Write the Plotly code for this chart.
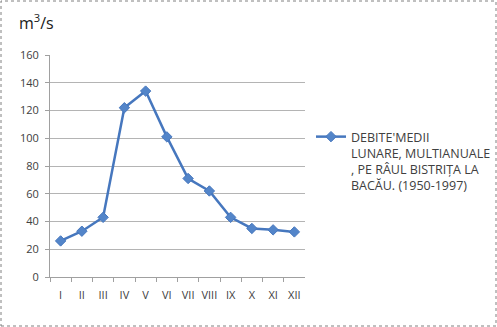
import plotly.graph_objects as go

months = ["I", "II", "III", "IV", "V", "VI", "VII", "VIII", "IX", "X", "XI", "XII"]
debite = [26, 33, 43, 122, 134, 101, 71, 62, 43, 35, 34, 32.5]
y_ticks = [0, 20, 40, 60, 80, 100, 120, 140, 160]
series_name = "DEBITE'MEDII<br>LUNARE, MULTIANUALE<br>, PE RÂUL BISTRIȚA LA<br>BACĂU. (1950-1997)"

font_family = "Open Sans, Noto Sans, sans-serif"
line_color = "#4677BE"

W, H = 497, 327
ML, MR, MT, MB = 50, 0, 55, 50
PW = W - ML - MR   # paper width
PH = H - MT - MB   # paper height
plot_right = 305

fig = go.Figure()
fig.add_trace(go.Scatter(
    x=months, y=debite, mode="lines+markers", name=series_name,
    line=dict(color=line_color, width=2.5),
    marker=dict(symbol="diamond", size=8, color="#5385C9",
                line=dict(color=line_color, width=1)),
))

fig.update_layout(
    width=W, height=H,
    margin=dict(l=ML, r=MR, t=MT, b=MB),
    paper_bgcolor="white", plot_bgcolor="white",
    font=dict(family=font_family, size=11, color="#404040"),
    showlegend=True,
    legend=dict(x=(311 - ML) / PW, y=(H - MB - 122) / PH,
                xanchor="left", yanchor="top",
                valign="top", itemwidth=30, borderwidth=0,
                font=dict(size=12.5, color="#404040"),
                bgcolor="rgba(0,0,0,0)", tracegroupgap=0),
    xaxis=dict(domain=[0, (plot_right - ML) / PW],
               type="category", showgrid=False, showline=True,
               linecolor="#a0a0a0", linewidth=1,
               ticks="outside", ticklen=4, tickcolor="#a0a0a0",
               tickson="boundaries", range=[-0.5, 11.5], tickangle=0,
               ticklabelstandoff=8,
               tickfont=dict(size=11, color="#404040"), fixedrange=True),
    yaxis=dict(range=[0, 160], tickvals=y_ticks, showgrid=True,
               gridcolor="#b4b4b4", gridwidth=1, showline=True,
               linecolor="#a0a0a0", linewidth=1, ticks="outside",
               ticklen=4, tickcolor="#a0a0a0", zeroline=False,
               ticklabelstandoff=4,
               tickfont=dict(size=11, color="#404040"), fixedrange=True),
    annotations=[dict(text="m<sup>3</sup>/s", xref="paper", yref="paper",
                      x=(17 - ML) / PW, y=1.15, xanchor="left", yanchor="middle",
                      showarrow=False, font=dict(size=16, color="#202020"))],
    shapes=[dict(type="rect", xref="paper", yref="paper",
                 x0=-(ML - 1) / PW, x1=1 - 1 / PW, y0=-(MB - 1) / PH, y1=1 + (MT - 1) / PH,
                 line=dict(color="#808080", width=1, dash="dot"))],
)

fig.write_html("out.html")
